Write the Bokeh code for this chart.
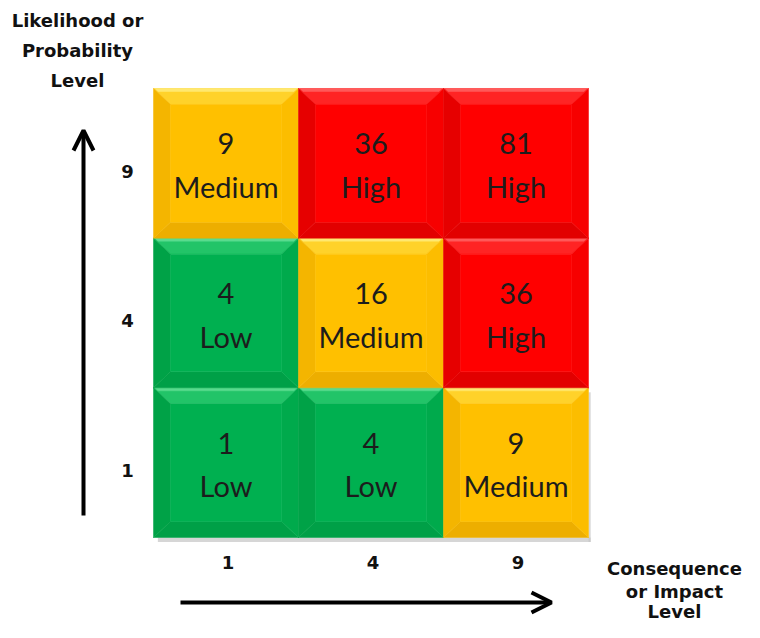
from bokeh.plotting import figure
from bokeh.models import Arrow, OpenHead, ColumnDataSource
from bokeh.core.properties import value
from bokeh.embed import file_html
from bokeh.resources import INLINE

# ---- data ----
impact_ticks = ["1", "4", "9"]          # consequence / impact level (columns)
likelihood_ticks = ["1", "4", "9"]      # likelihood / probability level (rows, bottom -> top)
cell_col = [0, 1, 2, 0, 1, 2, 0, 1, 2]
cell_row = [0, 0, 0, 1, 1, 1, 2, 2, 2]
cell_score = ["1", "4", "9", "4", "16", "36", "9", "36", "81"]
cell_rating = ["Low", "Low", "Medium", "Low", "Medium", "High", "Medium", "High", "High"]
y_title = ["Likelihood or", "Probability", "Level"]
x_title = ["Consequence", "or Impact", "Level"]

# ---- styling ----
shades = {
    "Low":    dict(center="#00B050", top="#22C468", left="#00A247", right="#00AA4C", bottom="#00A047", hi="#5ADB8E"),
    "Medium": dict(center="#FFC000", top="#FFD22A", left="#F4B500", right="#FCBD00", bottom="#EDAE00", hi="#FFE870"),
    "High":   dict(center="#FF0000", top="#FF2424", left="#E60000", right="#F70000", bottom="#E20000", hi="#FF5A5A"),
}

W, H = 744, 622
GX0, GY1 = 153, 537          # grid left / bottom in picture px
CW, CH = 145.0, 149.67       # cell size px


def px(x_img):
    return (x_img - GX0) / CW


def py(y_img):
    return (GY1 - y_img) / CH


p = figure(width=W, height=H, x_range=(px(0), px(W)), y_range=(py(H), py(0)),
           output_backend="svg", toolbar_location=None, min_border=0)
p.axis.visible = False
p.grid.visible = False
p.outline_line_color = None

# shadow
p.quad(left=[0.03], right=[3.015], top=[0.0], bottom=[-0.03], fill_color="#c4c4c4",
       fill_alpha=0.7, line_color=None)
p.quad(left=[3.0], right=[3.015], top=[0.97], bottom=[-0.03], fill_color="#c4c4c4",
       fill_alpha=0.7, line_color=None)

dx, dy = 17 / CW, 16 / CH
xs_all, ys_all, cols_all = [], [], []
for c, r, rating in zip(cell_col, cell_row, cell_rating):
    x0, x1, y0, y1 = c, c + 1, r, r + 1
    sh = shades[rating]
    polys = [
        ("top", [x0, x1, x1 - dx, x0 + dx], [y1, y1, y1 - dy, y1 - dy]),
        ("bottom", [x0, x1, x1 - dx, x0 + dx], [y0, y0, y0 + dy, y0 + dy]),
        ("left", [x0, x0 + dx, x0 + dx, x0], [y0, y0 + dy, y1 - dy, y1]),
        ("right", [x1, x1 - dx, x1 - dx, x1], [y0, y0 + dy, y1 - dy, y1]),
        ("center", [x0 + dx, x1 - dx, x1 - dx, x0 + dx], [y0 + dy, y0 + dy, y1 - dy, y1 - dy]),
        ("hi", [x0 + 0.01, x1 - 0.01, x1 - 0.01 - 3 / CW, x0 + 0.01 + 3 / CW],
         [y1, y1, y1 - 3 / CH, y1 - 3 / CH]),
    ]
    for face, xx, yy in polys:
        xs_all.append(xx)
        ys_all.append(yy)
        cols_all.append(sh[face])

p.patches(xs=xs_all, ys=ys_all, fill_color=cols_all, line_color=cols_all, line_width=0.5)

# cell texts
src = ColumnDataSource(dict(
    x=[c + 0.5 for c in cell_col],
    yn=[r + 0.5 + 0.13 for r in cell_row],
    yl=[r + 0.5 - 0.155 for r in cell_row],
    score=cell_score, rating=cell_rating))
p.text(x="x", y="yn", text="score", source=src, text_font=value("Lato"),
       text_font_size="29px", text_color="#1c1c1c", text_align="center",
       text_baseline="middle")
p.text(x="x", y="yl", text="rating", source=src, text_font=value("Lato"),
       text_font_size="29px", text_color="#1c1c1c", text_align="center",
       text_baseline="middle")

# tick labels
p.text(x=[px(127)] * 3, y=[r + 0.5 - 8 / CH for r in range(3)], text=likelihood_ticks,
       text_font=value("DejaVu Sans"), text_font_style="bold", text_font_size="18px",
       text_color="#111111", text_align="center", text_baseline="middle")
p.text(x=[c + 0.5 + 2 / CW for c in range(3)], y=[py(562)] * 3, text=impact_ticks,
       text_font=value("DejaVu Sans"), text_font_style="bold", text_font_size="18px",
       text_color="#111111", text_align="center", text_baseline="middle")

# axis titles
p.text(x=[px(77)] * 3, y=[py(20), py(50), py(80)], text=y_title,
       text_font=value("DejaVu Sans"), text_font_style="bold", text_font_size="18px",
       text_color="#111111", text_align="center", text_baseline="middle")
p.text(x=[px(674)] * 3, y=[py(568), py(591), py(611)], text=x_title,
       text_font=value("DejaVu Sans"), text_font_style="bold", text_font_size="18px",
       text_color="#111111", text_align="center", text_baseline="middle")

# arrows
p.add_layout(Arrow(end=OpenHead(size=20, line_width=4, line_color="black"),
                   x_start=px(83), y_start=py(515), x_end=px(83), y_end=py(130),
                   line_width=4, line_color="black"))
p.add_layout(Arrow(end=OpenHead(size=20, line_width=4, line_color="black"),
                   x_start=px(180), y_start=py(602), x_end=px(551), y_end=py(602),
                   line_width=4, line_color="black"))

open("out.html", "w").write(file_html(p, INLINE))
